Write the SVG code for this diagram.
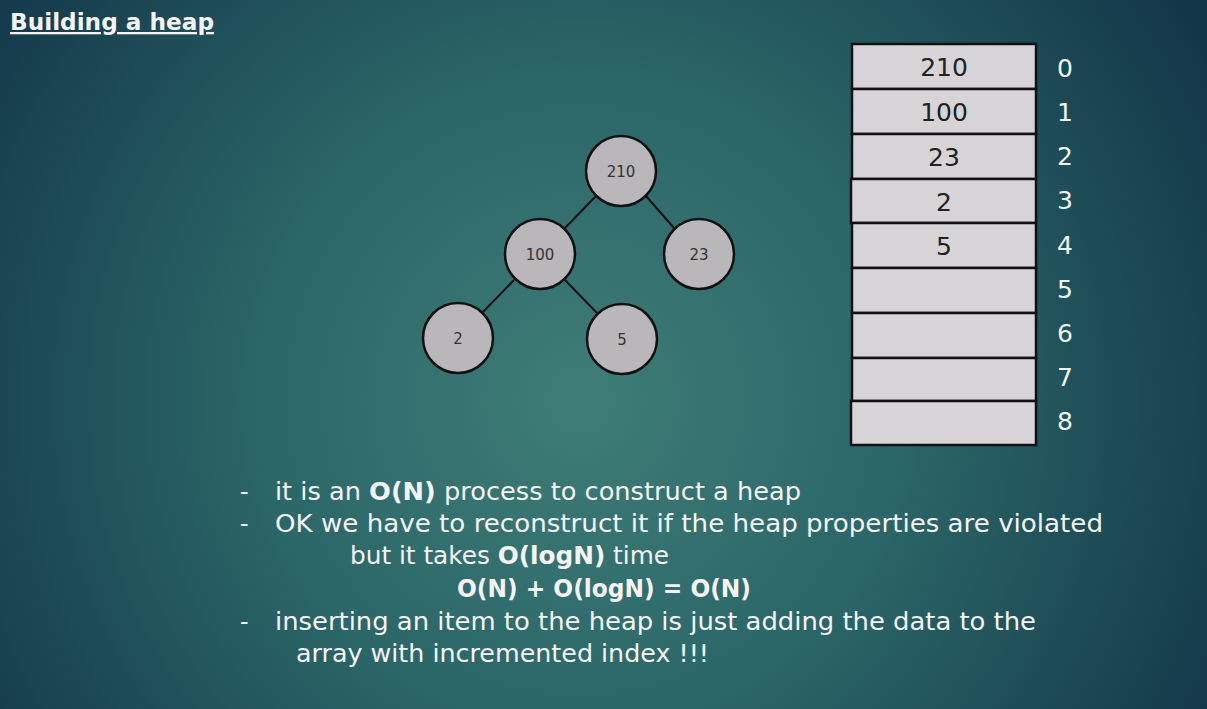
<svg xmlns="http://www.w3.org/2000/svg" width="1207" height="709" viewBox="0 0 1207 709">
  <defs>
    <radialGradient id="bg" cx="580" cy="400" r="720" gradientUnits="userSpaceOnUse">
      <stop offset="0" stop-color="#3f7d77"/>
      <stop offset="0.45" stop-color="#2b6668"/>
      <stop offset="1" stop-color="#133749"/>
    </radialGradient>
    <style>
      .node circle { fill: #b9b7ba; stroke: #111; stroke-width: 2.5; }
      .node text { font-family: "DejaVu Sans", "Liberation Sans", sans-serif; font-size: 15px; fill: #333; text-anchor: middle; }
      .edge { stroke: #111; stroke-width: 2; }
      .cell rect { fill: #d6d4d7; stroke: #111; stroke-width: 2.5; }
      .cell text { font-family: "DejaVu Sans", "Liberation Sans", sans-serif; font-size: 25px; fill: #222; text-anchor: middle; }
      .idx { font-family: "DejaVu Sans", "Liberation Sans", sans-serif; font-size: 25px; fill: #f2f2f2; text-anchor: middle; }
      .body { font-family: "DejaVu Sans", "Liberation Sans", sans-serif; font-size: 24px; fill: #f4f4f4; }
      .b { font-weight: bold; }
    </style>
  </defs>

  <rect width="1207" height="709" fill="url(#bg)"/>

  <!-- title -->
  <text x="10" y="30" font-family="DejaVu Sans, Liberation Sans, sans-serif" font-size="23" font-weight="bold" fill="#f4f4f4" text-decoration="underline" textLength="204" lengthAdjust="spacingAndGlyphs">Building a heap</text>

  <!-- tree edges -->
  <g id="connectors">
    <line class="edge" x1="596" y1="196" x2="565" y2="228"/>
    <line class="edge" x1="646" y1="196" x2="674" y2="228"/>
    <line class="edge" x1="514" y1="280" x2="483" y2="312"/>
    <line class="edge" x1="565" y1="280" x2="597" y2="313"/>
  </g>

  <!-- tree nodes -->
  <g id="node-210" class="node"><circle cx="621" cy="171" r="35"/><text x="621" y="177">210</text></g>
  <g id="node-100" class="node"><circle cx="540" cy="254" r="35"/><text x="540" y="260">100</text></g>
  <g id="node-23" class="node"><circle cx="699" cy="254" r="35"/><text x="699" y="260">23</text></g>
  <g id="node-2" class="node"><circle cx="458" cy="338" r="35"/><text x="458" y="344">2</text></g>
  <g id="node-5" class="node"><circle cx="622" cy="339" r="35"/><text x="622" y="345">5</text></g>

  <!-- array cells -->
  <g id="array">
    <g id="cell-0" class="cell"><rect x="852" y="44" width="184" height="45"/><text x="944" y="76">210</text></g>
    <g id="cell-1" class="cell"><rect x="852" y="89" width="184" height="45"/><text x="944" y="121">100</text></g>
    <g id="cell-2" class="cell"><rect x="852" y="134" width="184" height="45"/><text x="944" y="166">23</text></g>
    <g id="cell-3" class="cell"><rect x="851" y="179" width="185" height="44"/><text x="944" y="211">2</text></g>
    <g id="cell-4" class="cell"><rect x="852" y="223" width="184" height="45"/><text x="944" y="255">5</text></g>
    <g id="cell-5" class="cell"><rect x="852" y="268" width="184" height="45"/></g>
    <g id="cell-6" class="cell"><rect x="852" y="313" width="184" height="45"/></g>
    <g id="cell-7" class="cell"><rect x="852" y="358" width="184" height="43"/></g>
    <g id="cell-8" class="cell"><rect x="851" y="401" width="185" height="44"/></g>
  </g>

  <!-- indices -->
  <g id="indices">
    <text class="idx" x="1065" y="77">0</text>
    <text class="idx" x="1065" y="121">1</text>
    <text class="idx" x="1065" y="165">2</text>
    <text class="idx" x="1065" y="209">3</text>
    <text class="idx" x="1065" y="254">4</text>
    <text class="idx" x="1065" y="298">5</text>
    <text class="idx" x="1065" y="342">6</text>
    <text class="idx" x="1065" y="386">7</text>
    <text class="idx" x="1065" y="430">8</text>
  </g>

  <!-- notes -->
  <g id="notes">
    <text class="body" x="240" y="500">-</text>
    <text class="body" x="275" y="500" textLength="526" lengthAdjust="spacingAndGlyphs">it is an <tspan class="b">O(N)</tspan> process to construct a heap</text>
    <text class="body" x="240" y="532">-</text>
    <text class="body" x="275" y="532" textLength="828" lengthAdjust="spacingAndGlyphs">OK we have to reconstruct it if the heap properties are violated</text>
    <text class="body" x="350" y="564" textLength="319" lengthAdjust="spacingAndGlyphs">but it takes <tspan class="b">O(logN)</tspan> time</text>
    <text class="body b" x="457" y="597" textLength="294" lengthAdjust="spacingAndGlyphs">O(N) + O(logN) = O(N)</text>
    <text class="body" x="240" y="630">-</text>
    <text class="body" x="275" y="630" textLength="761" lengthAdjust="spacingAndGlyphs">inserting an item to the heap is just adding the data to the</text>
    <text class="body" x="296" y="662" textLength="413" lengthAdjust="spacingAndGlyphs">array with incremented index !!!</text>
  </g>
</svg>
